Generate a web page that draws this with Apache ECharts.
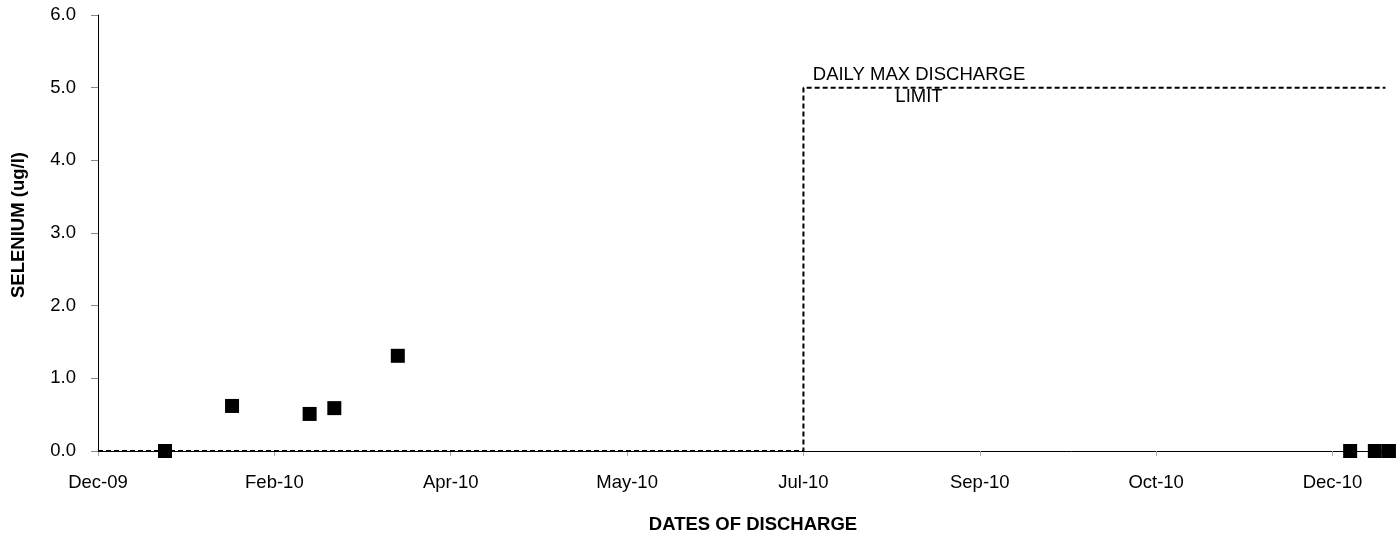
<!DOCTYPE html>
<html>
<head>
<meta charset="utf-8">
<script src="https://cdn.jsdelivr.net/npm/echarts@6/dist/echarts.min.js"></script>
<style>html,body{margin:0;padding:0;background:#fff}#c{width:1396px;height:540px}</style>
</head>
<body>
<div id="c"></div>
<script>
// Axis origin date (first tick, labelled Dec-09); ticks every 50 days
const axisStart = '2009-12-28';
const tickDays = 50;
const monthNames = ['Jan','Feb','Mar','Apr','May','Jun','Jul','Aug','Sep','Oct','Nov','Dec'];

// Selenium samples
const sampleDates = ['2010-01-16','2010-02-04','2010-02-26','2010-03-05','2010-03-23','2010-12-18','2010-12-25','2010-12-29'];
const sampleValues = [0.0, 0.62, 0.51, 0.59, 1.31, 0.0, 0.0, 0.0];

// Daily max discharge limit (step)
const limitDates = ['2009-12-28','2010-07-16','2010-07-16','2010-12-28'];
const limitValues = [0, 0, 5, 5];

const yTicks = [0,1,2,3,4,5,6];
const axisMaxDays = 368;

function dayOffset(s){
  const a = s.split('-').map(Number), b = axisStart.split('-').map(Number);
  return (Date.UTC(a[0],a[1]-1,a[2]) - Date.UTC(b[0],b[1]-1,b[2]))/86400000;
}
function labelFor(v){
  const b = axisStart.split('-').map(Number);
  const d = new Date(Date.UTC(b[0],b[1]-1,b[2]) + v*86400000);
  return monthNames[d.getUTCMonth()] + '-' + String(d.getUTCFullYear()%100).padStart(2,'0');
}

const FONT = '"Liberation Sans", Arial, sans-serif';
const FS = 18.5;
const chart = echarts.init(document.getElementById('c'), null, {renderer:'canvas'});
chart.setOption({
  animation:false,
  backgroundColor:'#fff',
  grid:{left:98, top:15, bottom:89, right:-4, containLabel:false},
  xAxis:{
    type:'value', min:0, max:axisMaxDays, interval:tickDays,
    axisLine:{show:true, lineStyle:{color:'#000', width:1}},
    axisTick:{show:true, length:5, lineStyle:{color:'#aaa'}},
    splitLine:{show:false},
    axisLabel:{show:true, margin:22, color:'#000', fontFamily:FONT, fontSize:FS, showMaxLabel:false,
      formatter:function(v){ return (v % tickDays === 0) ? labelFor(v) : ''; }}
  },
  yAxis:{
    type:'value', min:yTicks[0], max:yTicks[yTicks.length-1], interval:1,
    axisLine:{show:true, lineStyle:{color:'#000', width:1}},
    axisTick:{show:true, length:7, lineStyle:{color:'#888'}},
    splitLine:{show:false},
    axisLabel:{margin:22, color:'#000', fontFamily:FONT, fontSize:FS, formatter:function(v){return v.toFixed(1);}}
  },
  series:[
    {
      type:'line', data:limitDates.map((d,i)=>[dayOffset(d), limitValues[i]]),
      symbol:'none', lineStyle:{color:'#000', width:2, type:[5,3]}, z:3, clip:false
    },
    {
      type:'scatter', data:sampleDates.map((d,i)=>[dayOffset(d), sampleValues[i]]),
      symbol:'rect', symbolSize:14, itemStyle:{color:'#000', opacity:1}, z:4, clip:false
    }
  ],
  graphic:[
    {type:'text', x:919, y:86, style:{text:'DAILY MAX DISCHARGE\nLIMIT', fill:'#000', font:FS+'px '+FONT, textAlign:'center', textVerticalAlign:'middle', lineHeight:22}},
    {type:'text', x:753, y:525, style:{text:'DATES OF DISCHARGE', fill:'#000', font:'bold '+FS+'px '+FONT, textAlign:'center', textVerticalAlign:'middle'}},
    {type:'text', x:19, y:225, rotation:Math.PI/2, style:{text:'SELENIUM (ug/l)', fill:'#000', font:'bold '+FS+'px '+FONT, textAlign:'center', textVerticalAlign:'middle'}}
  ]
});
</script>
</body>
</html>
